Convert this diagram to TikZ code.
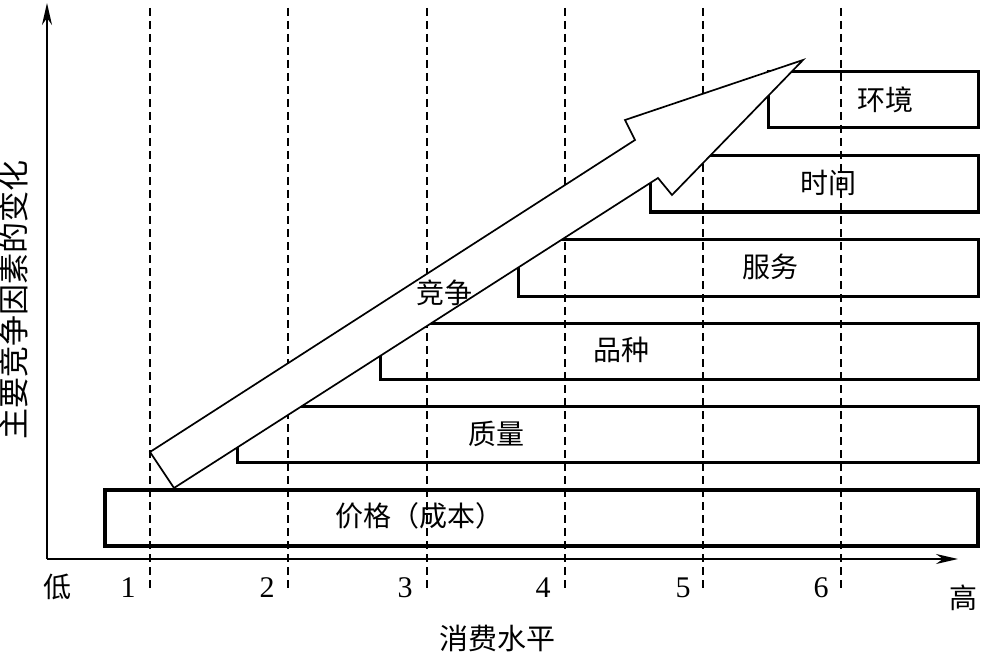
\documentclass[tikz,border=0pt]{standalone}
\usepackage{fontspec}
\setmainfont{Liberation Serif}
\newfontfamily\cjk{Noto Sans CJK SC}
\usetikzlibrary{arrows.meta}
\begin{document}
\begin{tikzpicture}[x=1pt,y=-1pt,
  axis/.style={line width=2pt,-{Stealth[length=22pt,width=10pt,inset=7pt]}},
  gridline/.style={dash pattern=on 8pt off 5pt, line width=1.2pt},
  bar/.style={line width=3pt},
  bigarrow/.style={line width=1.7pt, fill=white, line join=miter},
  lbl/.style={font=\cjk\fontsize{28}{28}\selectfont, inner sep=0pt},
  num/.style={font=\fontsize{30}{30}\selectfont, inner sep=0pt}]
\useasboundingbox (0,0) rectangle (982,655);
% dashed grid
\foreach \x in {150,288,427,565,703,841}
  \draw[gridline] (\x,8) -- (\x,592);
% axes
\coordinate (O) at (47,559);
\coordinate (ytip) at (47,3);
\coordinate (xtip) at (958,559);
\draw[axis] (O) -- (ytip);
\draw[axis] (O) -- (xtip);
% bars
\draw[bar, line width=3.3pt] (105,490) rectangle (978,546);
\draw[bar] (237,406) rectangle (978,462);
\draw[bar] (380,323) rectangle (978,379);
\draw[bar] (518,239) rectangle (978,296);
\draw[bar] (650,156) rectangle (978,212);
\draw[bar] (768,72) rectangle (978,128);
% big arrow
\draw[bigarrow] (150,452) -- (635,140) -- (625,120) -- (803,60)
  -- (672,195) -- (658,178) -- (174,488) -- cycle;
% labels
\node[lbl] (price) at (419,516) {价格（成本）};
\node[lbl] (quality) at (496,434) {质量};
\node[lbl] (variety) at (621,350) {品种};
\node[lbl] (service) at (770,267) {服务};
\node[lbl] (time) at (828,183) {时间};
\node[lbl] (env) at (885,100) {环境};
\node[lbl] (comp) at (444,293) {竞争};
% axis labels
\node[lbl, rotate=90, font=\cjk\fontsize{31}{31}\selectfont] (ylab) at (14,300) {主要竞争因素的变化};
\node[lbl] (low) at (57,587) {低};
\node[lbl] (high) at (963,598) {高};
\node[lbl, font=\cjk\fontsize{29}{29}\selectfont] (xlab) at (497,638) {消费水平};
\node[num] (n1) at (128,588) {1};
\node[num] (n2) at (267,588) {2};
\node[num] (n3) at (405,588) {3};
\node[num] (n4) at (543,588) {4};
\node[num] (n5) at (683,588) {5};
\node[num] (n6) at (821,588) {6};
\end{tikzpicture}
\end{document}
